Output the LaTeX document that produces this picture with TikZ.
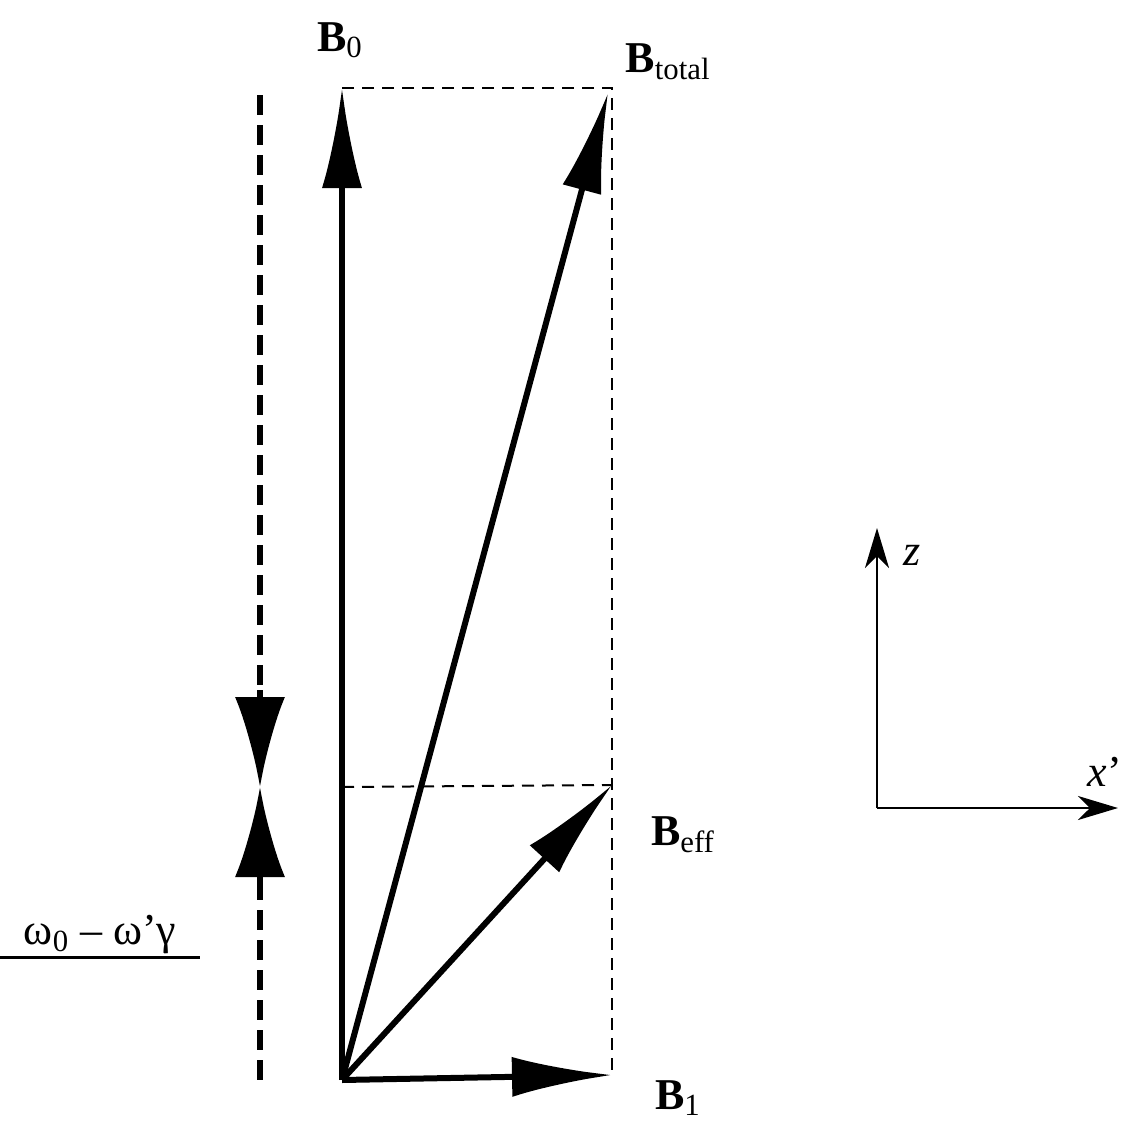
\documentclass[tikz,border=0pt]{standalone}
\usepackage{fontspec}
\setmainfont{Liberation Serif}
\usetikzlibrary{arrows.meta}
\tikzset{
  vec/.style={line width=3pt,-{Latex[length=50pt,width=20pt]}},
  help/.style={line width=1pt,dash pattern=on 6pt off 4pt},
  gap/.style={line width=3pt,dash pattern=on 10pt off 5pt},
  gaptip/.style={line width=3pt,-{Latex[length=45pt,width=25pt]}},
  axis/.style={line width=1.3pt,-{Stealth[length=20pt,width=12pt,inset=6pt]}},
  lbl/.style={font=\fontsize{22}{26}\selectfont}
}
\begin{document}
\begin{tikzpicture}[x=0.5pt,y=-0.5pt]
\useasboundingbox (0,0) rectangle (1146,1124);
% field vectors
\coordinate (O) at (342,1080);
\coordinate (b0) at (342,88);
\coordinate (bt) at (608,93);
\coordinate (be) at (612,785);
\coordinate (b1) at (612,1075);
\coordinate (tr) at (612,88);
\coordinate (ml) at (342,787);
\draw[help] (b0) -- (tr) -- (b1);
\draw[help] (ml) -- (be);
\draw[vec] (O) -- (b0);
\draw[vec] (O) -- (bt);
\draw[vec] (O) -- (be);
\draw[vec] (O) -- (b1);
\node[lbl] (lb0) at (340,40) {\textbf{B}\textsubscript{0}};
\node[lbl] (lbt) at (668,62) {\textbf{B}\textsubscript{total}};
\node[lbl] (lbe) at (683,835) {\textbf{B}\textsubscript{eff}};
\node[lbl] (lb1) at (678,1098) {\textbf{B}\textsubscript{1}};
% offset marker
\coordinate (gt) at (260,95);
\coordinate (gm) at (260,787);
\coordinate (gb) at (260,1080);
\draw[gap] (gt) -- (260,695);
\draw[gap] (260,880) -- (gb);
\draw[gaptip] (260,690) -- (gm);
\draw[gaptip] (260,884) -- (gm);
\node[lbl] (frac) at (100,935) {ω\textsubscript{0} -- ω'\\[6pt]γ};
\node[lbl,align=center] (fr) at (100,935) {};
\draw[line width=1.5pt] (0,957) -- (200,957);
% axes
\coordinate (A) at (877,808);
\draw[axis] (A) -- (877,528);
\draw[axis] (A) -- (1118,808);
\node[lbl] (lz) at (912,555) {\textit{z}};
\node[lbl] (lx) at (1105,772) {\textit{x}'};
\end{tikzpicture}
\end{document}
